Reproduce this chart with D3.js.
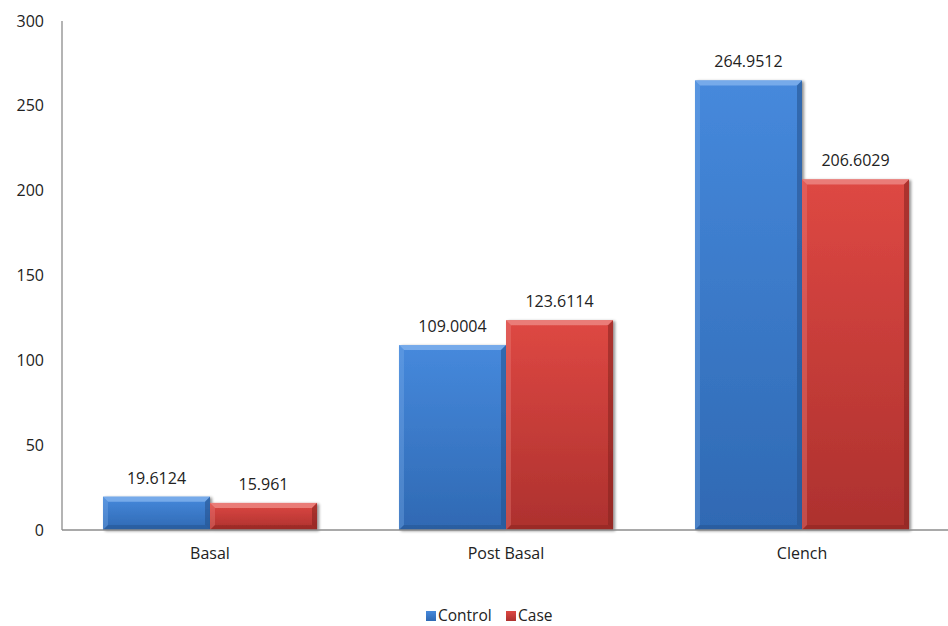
<!DOCTYPE html>
<html>
<head>
<meta charset="utf-8">
<script src="https://cdn.jsdelivr.net/npm/d3@7"></script>
<style>
  html, body { margin: 0; padding: 0; background: #fff; }
  svg { display: block; font-family: "Open Sans", "Noto Sans", sans-serif; }
</style>
</head>
<body>
<svg id="chart" width="948" height="626"></svg>
<script>
const categories = ["Basal", "Post Basal", "Clench"];
const seriesNames = ["Control", "Case"];
const controlValues = [19.6124, 109.0004, 264.9512];
const caseValues = [15.961, 123.6114, 206.6029];
const controlLabels = ["19.6124", "109.0004", "264.9512"];
const caseLabels = ["15.961", "123.6114", "206.6029"];
const yTicks = [0, 50, 100, 150, 200, 250, 300];

const svg = d3.select("#chart");
const margin = { left: 62, right: 0, top: 21, bottom: 96 };
const W = 948, H = 626;

const x = d3.scaleBand().domain(categories).range([margin.left, 950]).paddingInner(0).paddingOuter(0);
const inner = d3.scaleBand().domain(seriesNames).range([0, x.bandwidth()]).paddingInner(0).paddingOuter(0.383);
const y = d3.scaleLinear().domain([0, 300]).range([H - margin.bottom, margin.top]);

const palette = {
  Control: { top: "#4689dc", bottom: "#2f69b3", light: "#7fb0ec", dark: "#24508a" },
  Case: { top: "#de4843", bottom: "#ad312e", light: "#ec8581", dark: "#84231f" }
};

const defs = svg.append("defs");
seriesNames.forEach(s => {
  const g = defs.append("linearGradient").attr("id", "grad-" + s).attr("x1", 0).attr("y1", 0).attr("x2", 0).attr("y2", 1);
  g.append("stop").attr("offset", "0%").attr("stop-color", palette[s].top);
  g.append("stop").attr("offset", "100%").attr("stop-color", palette[s].bottom);
});
const sh = defs.append("filter").attr("id", "shadow").attr("x", "-10%").attr("y", "-10%").attr("width", "130%").attr("height", "130%");
sh.append("feGaussianBlur").attr("in", "SourceAlpha").attr("stdDeviation", 1.5).attr("result", "b");
sh.append("feOffset").attr("in", "b").attr("dx", 2).attr("dy", 1).attr("result", "o");
sh.append("feComponentTransfer").attr("in", "o").attr("result", "oa").append("feFuncA").attr("type", "linear").attr("slope", 0.45);
const m = sh.append("feMerge");
m.append("feMergeNode").attr("in", "oa");
m.append("feMergeNode").attr("in", "SourceGraphic");

// y axis labels
svg.append("g").selectAll("text").data(yTicks).join("text")
  .attr("x", 44).attr("y", d => y(d)).attr("dy", "0.35em")
  .attr("text-anchor", "end").attr("font-size", 16).attr("fill", "#222")
  .text(d => d);

// bars
const rows = [];
categories.forEach((c, i) => {
  rows.push({ cat: c, s: "Control", v: controlValues[i], label: controlLabels[i] });
  rows.push({ cat: c, s: "Case", v: caseValues[i], label: caseLabels[i] });
});

const bars = svg.append("g").selectAll("g").data(rows).join("g")
  .attr("filter", "url(#shadow)");
bars.each(function(d) {
  const g = d3.select(this);
  const x0 = x(d.cat) + inner(d.s), w = inner.bandwidth();
  const y0 = y(d.v), y1 = y(0), h = y1 - y0;
  const b = Math.min(5, h / 2);
  const p = palette[d.s];
  g.append("rect").attr("x", x0).attr("y", y0).attr("width", w).attr("height", h).attr("fill", `url(#grad-${d.s})`);
  // bevel: top
  g.append("path").attr("d", `M${x0},${y0}L${x0 + w},${y0}L${x0 + w - b},${y0 + b}L${x0 + b},${y0 + b}Z`).attr("fill", p.light).attr("opacity", 0.85);
  // left
  g.append("path").attr("d", `M${x0},${y0}L${x0 + b},${y0 + b}L${x0 + b},${y1 - b}L${x0},${y1}Z`).attr("fill", p.light).attr("opacity", 0.35);
  // right
  g.append("path").attr("d", `M${x0 + w},${y0}L${x0 + w},${y1}L${x0 + w - b},${y1 - b}L${x0 + w - b},${y0 + b}Z`).attr("fill", p.dark).attr("opacity", 0.55);
  // bottom
  g.append("path").attr("d", `M${x0},${y1}L${x0 + w},${y1}L${x0 + w - b},${y1 - b}L${x0 + b},${y1 - b}Z`).attr("fill", p.dark).attr("opacity", 0.45);
});

// value labels
svg.append("g").selectAll("text").data(rows).join("text")
  .attr("x", d => x(d.cat) + inner(d.s) + inner.bandwidth() / 2)
  .attr("y", d => y(d.v) - 13)
  .attr("text-anchor", "middle").attr("font-size", 16).attr("fill", "#222")
  .text(d => d.label);

// axes lines
svg.append("line").attr("x1", margin.left).attr("x2", margin.left).attr("y1", y(300)).attr("y2", y(0))
  .attr("stroke", "#8c8c8c").attr("stroke-width", 1.3);
svg.append("line").attr("x1", margin.left).attr("x2", W).attr("y1", y(0)).attr("y2", y(0))
  .attr("stroke", "#8c8c8c").attr("stroke-width", 1.3);

// category labels
svg.append("g").selectAll("text").data(categories).join("text")
  .attr("x", d => x(d) + x.bandwidth() / 2).attr("y", 559)
  .attr("text-anchor", "middle").attr("font-size", 16).attr("fill", "#222")
  .text(d => d);

// legend
const legend = svg.append("g");
const legendItems = [{ s: "Control", x: 426 }, { s: "Case", x: 506 }];
legendItems.forEach(it => {
  legend.append("rect").attr("x", it.x).attr("y", 611).attr("width", 10).attr("height", 10)
    .attr("fill", `url(#grad-${it.s})`);
  legend.append("text").attr("x", it.x + 12).attr("y", 616).attr("dy", "0.35em")
    .attr("font-size", 15.5).attr("fill", "#222").text(it.s);
});
</script>
</body>
</html>
